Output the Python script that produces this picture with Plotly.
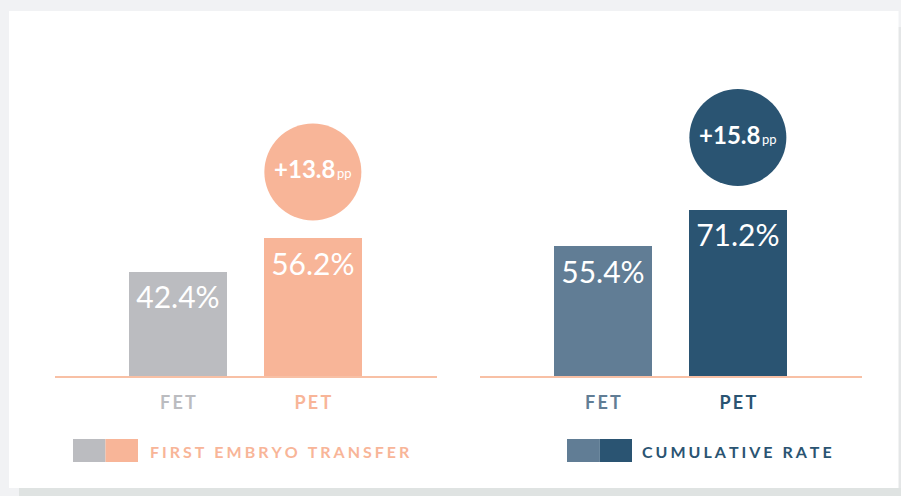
import plotly.graph_objects as go

# ---------------- data ----------------
categories = ["FET", "PET"]
first_transfer = [42.4, 56.2]      # first embryo transfer rate (%)
cumulative = [55.4, 71.2]          # cumulative rate (%)
legend_labels = ["FIRST EMBRYO TRANSFER", "CUMULATIVE RATE"]

first_colors = ["#bbbcc0", "#f8b598"]
cum_colors = ["#617d95", "#2a5472"]
AXIS_COLOR = "#f8c0a5"

W, H = 901, 496


def px_x(px):
    return px / W


def px_y(py):
    return 1 - py / H


def spaced(s, sep="\u2009"):
    return sep.join(list(s))


FONT = "Lato"
Y_BOTTOM = px_y(376)
Y_TOP = px_y(11)
DOMAIN_H = (376 - 11)
scale1 = 2.455   # px per %
scale2 = 2.338
range1 = DOMAIN_H / scale1
range2 = DOMAIN_H / scale2

fig = go.Figure()

panels = [
    dict(vals=first_transfer, colors=first_colors, xa="x", ya="y", scale=scale1, badge_px=66),
    dict(vals=cumulative, colors=cum_colors, xa="x2", ya="y2", scale=scale2, badge_px=72),
]

for p in panels:
    vals, cols, sc = p["vals"], p["colors"], p["scale"]
    fig.add_trace(go.Bar(
        x=categories, y=vals, marker=dict(color=cols, line=dict(width=0)),
        width=0.726, xaxis=p["xa"], yaxis=p["ya"], hoverinfo="skip",
    ))
    # value labels inside bars
    fig.add_trace(go.Scatter(
        x=categories, y=[v - 29 / sc for v in vals], mode="text",
        text=[f"{v:.1f}%" for v in vals],
        textfont=dict(family=FONT, size=30, color="white"),
        textposition="middle center", xaxis=p["xa"], yaxis=p["ya"], hoverinfo="skip",
    ))
    # difference badge
    diff = vals[1] - vals[0]
    fig.add_trace(go.Scatter(
        x=[categories[1]], y=[vals[1] + p["badge_px"] / sc],
        mode="markers+text",
        marker=dict(size=97, color=cols[1], line=dict(width=0)),
        text=[f"<b>+{diff:.1f}</b><span style='font-size:13px'>\u2009pp</span>"],
        textfont=dict(family=FONT, size=24, color="white"),
        textposition="middle center", xaxis=p["xa"], yaxis=p["ya"], hoverinfo="skip",
    ))

def xaxis_cfg(domain, colors):
    return dict(
        domain=domain, type="category", range=[-0.911, 1.92],
        showline=True, linecolor=AXIS_COLOR, linewidth=2,
        ticks="", showgrid=False, zeroline=False, fixedrange=True,
        tickvals=categories,
        ticktext=[f"<span style='color:{c}'><b>{spaced(t)}</b></span>" for t, c in zip(categories, colors)],
        tickfont=dict(family=FONT, size=18),
        ticklabelstandoff=9,
    )

def yaxis_cfg(rng, anchor):
    return dict(domain=[Y_BOTTOM, Y_TOP], range=[0, rng], visible=False,
                fixedrange=True, anchor=anchor)

shapes = [
    # card shadow
    dict(type="rect", xref="paper", yref="paper", x0=px_x(19), x1=1, y0=0, y1=px_y(488),
         fillcolor="#dfe3e2", line=dict(width=0), layer="below"),
    dict(type="rect", xref="paper", yref="paper", x0=px_x(898), x1=1, y0=px_y(488), y1=px_y(27),
         fillcolor="#e4e6e7", line=dict(width=0), layer="below"),
    # white card
    dict(type="rect", xref="paper", yref="paper", x0=px_x(9), x1=px_x(898.5), y0=px_y(488), y1=px_y(11),
         fillcolor="white", line=dict(width=0), layer="below"),
]

# legend swatches
legend_defs = [
    dict(x0=73, colors=first_colors, text_x=148, text_color=first_colors[1], label=legend_labels[0]),
    dict(x0=567, colors=cum_colors, text_x=640, text_color=cum_colors[1], label=legend_labels[1]),
]
annotations = []
for lg in legend_defs:
    for i, c in enumerate(lg["colors"]):
        shapes.append(dict(type="rect", xref="paper", yref="paper",
                           x0=px_x(lg["x0"] + 32.5 * i), x1=px_x(lg["x0"] + 32.5 * (i + 1)),
                           y0=px_y(462), y1=px_y(439), fillcolor=c, line=dict(width=0)))
    annotations.append(dict(
        xref="paper", yref="paper", x=px_x(lg["text_x"]), y=px_y(451),
        xanchor="left", yanchor="middle", showarrow=False,
        text=f"<b>{spaced(lg['label'], chr(0x2009) + chr(0x200a))}</b>",
        font=dict(family=FONT, size=16, color=lg["text_color"]),
    ))

fig.update_layout(
    width=W, height=H, autosize=False,
    margin=dict(l=0, r=0, t=0, b=0, pad=0),
    paper_bgcolor="#f1f2f4", plot_bgcolor="rgba(0,0,0,0)",
    showlegend=False, bargap=0,
    xaxis=xaxis_cfg([px_x(55), px_x(437)], first_colors) | dict(anchor="y"),
    xaxis2=xaxis_cfg([px_x(480), px_x(862)], cum_colors) | dict(anchor="y2"),
    yaxis=yaxis_cfg(range1, "x"),
    yaxis2=yaxis_cfg(range2, "x2"),
    shapes=shapes, annotations=annotations,
)

fig.write_html("out.html")
